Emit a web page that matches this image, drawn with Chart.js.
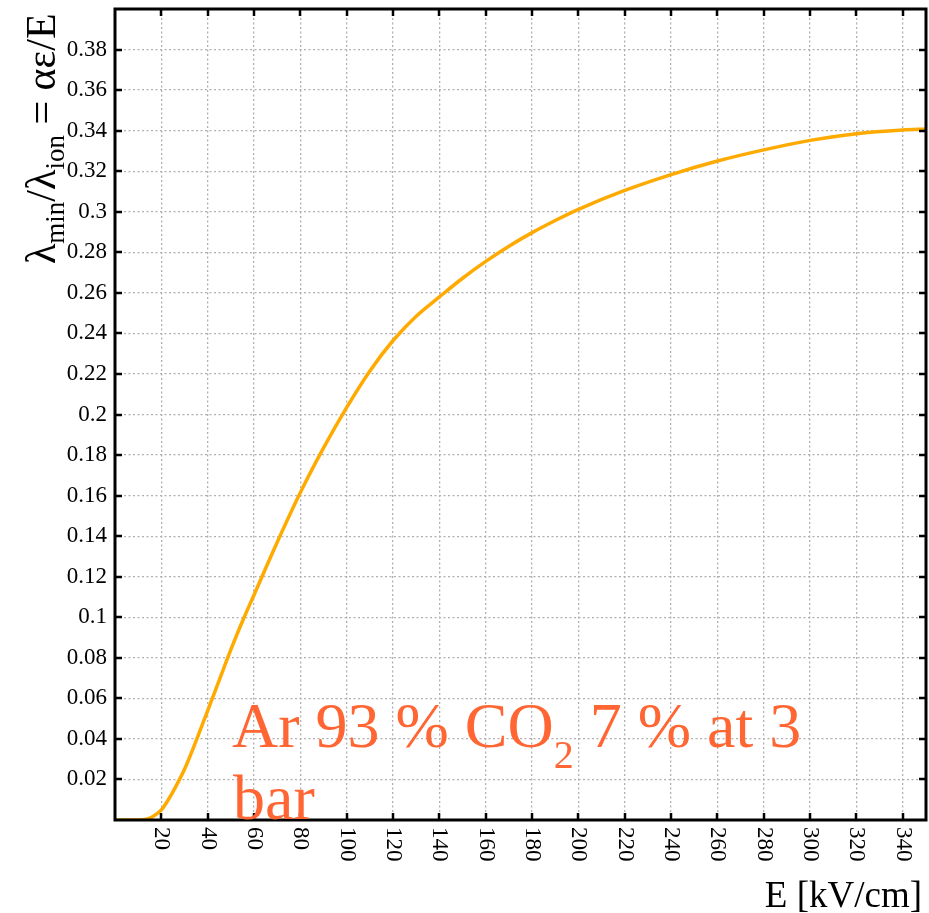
<!DOCTYPE html>
<html>
<head>
<meta charset="utf-8">
<script src="https://cdn.jsdelivr.net/npm/chart.js@4.4.1/dist/chart.umd.min.js"></script>
<style>
  html, body { margin: 0; padding: 0; background: #fff; }
  canvas { display: block; }
</style>
</head>
<body>
<canvas id="lambdaChart" width="929" height="913"></canvas>
<script>
// E field [kV/cm] and lambda_min / lambda_ion
const eField = [0, 5, 10, 13, 16, 20, 23, 26, 30, 35, 40, 45, 50, 55, 60, 70, 80, 90, 100, 110, 120, 130, 140, 150, 160, 170, 180, 190, 200, 220, 240, 260, 280, 300, 320, 340, 350];
const lambdaRatio = [0, 0, 0, 0.0002, 0.0015, 0.005, 0.01, 0.016, 0.025, 0.039, 0.054, 0.069, 0.084, 0.098, 0.111, 0.137, 0.1615, 0.1835, 0.2035, 0.2215, 0.2365, 0.2485, 0.2580, 0.2672, 0.2755, 0.2830, 0.2897, 0.2957, 0.3012, 0.3105, 0.3183, 0.3250, 0.3305, 0.3352, 0.3385, 0.3403, 0.3408];

const xTicks = [20, 40, 60, 80, 100, 120, 140, 160, 180, 200, 220, 240, 260, 280, 300, 320, 340];
const yTicks = [0.02, 0.04, 0.06, 0.08, 0.1, 0.12, 0.14, 0.16, 0.18, 0.2, 0.22, 0.24, 0.26, 0.28, 0.3, 0.32, 0.34, 0.36, 0.38];

const serif = '"Liberation Serif", "DejaVu Serif", serif';
const noteColor = '#ff6633';

// frame, inward ticks, labels, titles and the gas note
const framePlugin = {
    id: 'frame',
    afterDraw(chart) {
        const ctx = chart.ctx;
        const a = chart.chartArea;
        const xs = chart.scales.x;
        const ys = chart.scales.y;
        ctx.save();

        ctx.strokeStyle = '#000';
        ctx.lineWidth = 2.5;
        xTicks.forEach(v => {
            const px = Math.round(xs.getPixelForValue(v));
            ctx.beginPath();
            ctx.moveTo(px, a.bottom); ctx.lineTo(px, a.bottom - 7);
            ctx.moveTo(px, a.top); ctx.lineTo(px, a.top + 7);
            ctx.stroke();
        });
        yTicks.forEach(v => {
            const py = Math.round(ys.getPixelForValue(v));
            ctx.beginPath();
            ctx.moveTo(a.left, py); ctx.lineTo(a.left + 7, py);
            ctx.moveTo(a.right, py); ctx.lineTo(a.right - 7, py);
            ctx.stroke();
        });
        ctx.lineWidth = 3;
        ctx.strokeRect(a.left, a.top, a.right - a.left, a.bottom - a.top);

        // tick labels
        ctx.fillStyle = '#000';
        ctx.font = '23px ' + serif;
        ctx.textAlign = 'right';
        ctx.textBaseline = 'middle';
        yTicks.forEach(v => {
            ctx.fillText(String(+v.toFixed(2)), a.left - 8, ys.getPixelForValue(v));
        });
        xTicks.forEach(v => {
            ctx.save();
            ctx.translate(xs.getPixelForValue(v), a.bottom + 7);
            ctx.rotate(Math.PI / 2);
            ctx.textAlign = 'left';
            ctx.fillText(String(v), 0, 0);
            ctx.restore();
        });

        // x title
        ctx.font = '37px ' + serif;
        ctx.textAlign = 'right';
        ctx.textBaseline = 'alphabetic';
        ctx.fillText('E [kV/cm]', 922, 907);

        // y title with subscripts
        ctx.save();
        ctx.translate(55, 264);
        ctx.rotate(-Math.PI / 2);
        ctx.textAlign = 'left';
        const parts = [
            ['\u03bb', 42, 0], ['min', 27, 9], ['/\u03bb', 42, 0], ['ion', 27, 9], [' = \u03b1\u03b5/E', 42, 0]
        ];
        let cx = 0;
        parts.forEach(([t, size, dy]) => {
            ctx.font = size + 'px ' + serif;
            ctx.fillText(t, cx, dy);
            cx += ctx.measureText(t).width;
        });
        ctx.restore();

        // gas mixture note
        ctx.fillStyle = noteColor;
        ctx.textAlign = 'left';
        const note = [['Ar 93 % CO', 64, 0], ['2', 40, 21], [' 7 % at 3', 64, 0]];
        let nx = 232;
        note.forEach(([t, size, dy]) => {
            ctx.font = size + 'px ' + serif;
            ctx.fillText(t, nx, 747 + dy);
            nx += ctx.measureText(t).width;
        });
        ctx.font = '64px ' + serif;
        ctx.fillText('bar', 233, 819);

        ctx.restore();
    }
};

const ctx = document.getElementById('lambdaChart').getContext('2d');
new Chart(ctx, {
    type: 'line',
    data: {
        datasets: [{
            data: eField.map((e, i) => ({ x: e, y: lambdaRatio[i] })),
            borderColor: '#ffaa00',
            borderWidth: 3.5,
            pointRadius: 0,
            fill: false,
            cubicInterpolationMode: 'monotone'
        }]
    },
    options: {
        responsive: false,
        animation: false,
        devicePixelRatio: 1,
        layout: { padding: { left: 115, right: 3, top: 9, bottom: 93 } },
        plugins: { legend: { display: false }, tooltip: { enabled: false } },
        scales: {
            x: {
                type: 'linear',
                min: 0,
                max: 350,
                afterBuildTicks: s => { s.ticks = xTicks.map(v => ({ value: v })); },
                ticks: { display: false },
                grid: { color: '#b0b0b0', lineWidth: 1.3, drawTicks: false },
                border: { display: false, dash: [2, 2.5] }
            },
            y: {
                min: 0,
                max: 0.4,
                afterBuildTicks: s => { s.ticks = yTicks.map(v => ({ value: v })); },
                ticks: { display: false },
                grid: { color: '#b0b0b0', lineWidth: 1.3, drawTicks: false },
                border: { display: false, dash: [2, 2.5] }
            }
        }
    },
    plugins: [framePlugin]
});
</script>
</body>
</html>
